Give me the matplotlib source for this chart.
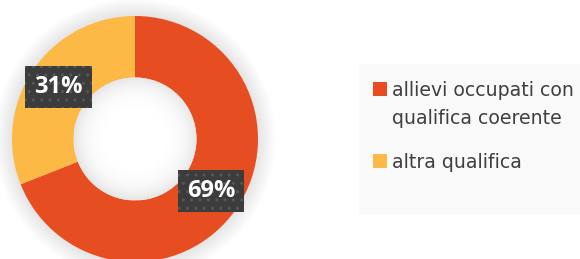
import numpy as np
import matplotlib.pyplot as plt
from matplotlib.patches import Rectangle, Circle

categories = ["allievi occupati con\nqualifica coerente", "altra qualifica"]
shares = [69, 31]
colors = ["#E64E22", "#FDB945"]

plt.rcParams['font.family'] = ['Open Sans', 'DejaVu Sans']

W, H = 580, 259
fig = plt.figure(figsize=(W / 100, H / 100), dpi=100)

# donut: centre (135,139) px, outer radius 123 px
cx, cy, r = 135, 139, 123
ax = fig.add_axes([(cx - r) / W, (H - cy - r) / H, 2 * r / W, 2 * r / H])

# soft outer shadow
for k in range(1, 14):
    ax.add_patch(Circle((0, 0), 1 + k * 0.011, facecolor='#000000', alpha=0.009,
                        edgecolor='none', clip_on=False, zorder=0))

wedges, texts, autotexts = ax.pie(
    shares, colors=colors, startangle=90, counterclock=False,
    wedgeprops=dict(width=0.5, linewidth=0),
    autopct='%d%%', pctdistance=0.75,
    textprops=dict(color='white', fontsize=17, fontweight='bold'))
for t in autotexts:
    t.set_bbox(dict(boxstyle='square,pad=0.38', facecolor='#3C3C3C',
                    edgecolor='#575757', hatch='..', linewidth=0))
    t.set_zorder(5)

# hole with inner gradient
g = np.linspace(-0.5, 0.5, 200)
xx, yy = np.meshgrid(g, g)
rr = np.sqrt(xx ** 2 + yy ** 2) / 0.5
shade = 1 - 0.10 * np.clip(rr, 0, 1) ** 5
im = ax.imshow(shade, cmap='gray', vmin=0, vmax=1, extent=(-0.5, 0.5, -0.5, 0.5),
               zorder=3, interpolation='bilinear')
hole = Circle((0, 0), 0.5, transform=ax.transData)
im.set_clip_path(hole)

ax.set_xlim(-1, 1)
ax.set_ylim(-1, 1)
ax.set_aspect('equal')
ax.axis('off')

# legend panel drawn by hand so the square sits at the first text line
fig.patches.append(Rectangle((359 / W, (H - 214) / H), (W - 359) / W, 150 / H,
                             transform=fig.transFigure, facecolor='#F9F9F9',
                             edgecolor='none', zorder=0))
baselines = [96, 168]
line_step = 28
for lab, col, base in zip(categories, colors, baselines):
    fig.patches.append(Rectangle((373 / W, (H - base) / H), 14 / W, 14 / H,
                                 transform=fig.transFigure, facecolor=col,
                                 edgecolor='none'))
    for i, line in enumerate(lab.split('\n')):
        fig.text(392 / W, (H - base - i * line_step) / H, line, ha='left',
                 va='baseline', fontsize=13.6, family='DejaVu Sans',
                 color='#404040')

fig.savefig('out.png', dpi=100)
